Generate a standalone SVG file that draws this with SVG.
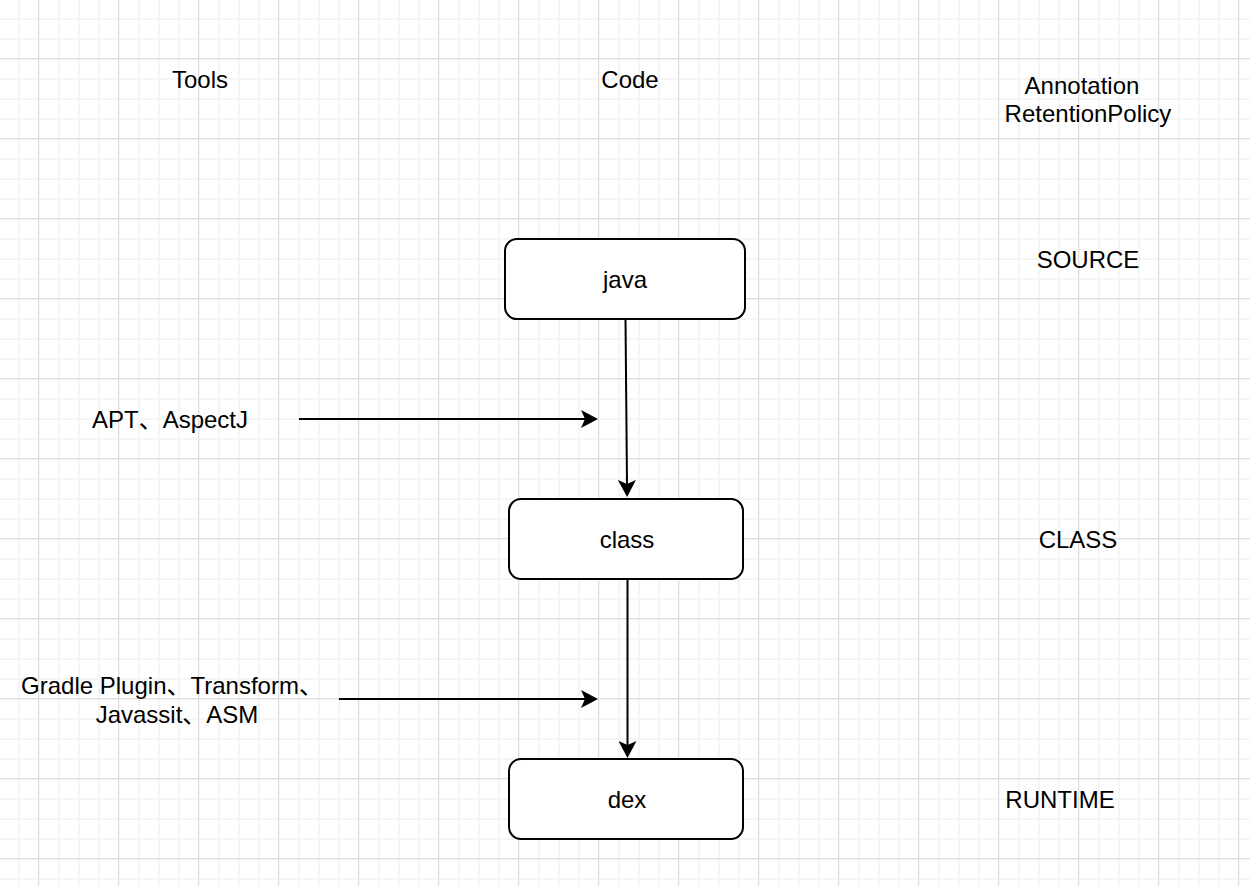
<svg xmlns="http://www.w3.org/2000/svg" width="1250" height="886" viewBox="0 0 1250 886">
  <defs>
    <pattern id="minor" patternUnits="userSpaceOnUse" x="18" y="18" width="20" height="20">
      <rect x="0" y="0" width="2" height="20" fill="#f5f5f5"/>
      <rect x="0" y="0" width="20" height="2" fill="#f5f5f5"/>
    </pattern>
    <pattern id="major" patternUnits="userSpaceOnUse" x="38" y="58" width="80" height="80">
      <rect x="0" y="0" width="1" height="80" fill="#dedede"/>
      <rect x="0" y="0" width="80" height="1" fill="#dedede"/>
    </pattern>
    <marker id="arrow" markerUnits="userSpaceOnUse" viewBox="0 0 17 18" refX="4" refY="9" markerWidth="17" markerHeight="18" orient="auto">
      <path d="M0,0 L17,9 L0,18 L4,9 Z" fill="#000"/>
    </marker>
    <style>
      text { font-family: "Liberation Sans", "Noto Sans CJK SC", sans-serif; font-size: 24px; fill: #000; text-anchor: middle; }
      .box { fill: #fff; stroke: #000; stroke-width: 2; }
      .edge { fill: none; stroke: #000; stroke-width: 2; marker-end: url(#arrow); }
    </style>
  </defs>

  <g id="background">
    <rect x="0" y="0" width="1250" height="886" fill="#fff"/>
    <rect x="0" y="0" width="1250" height="886" fill="url(#minor)"/>
    <rect x="0" y="0" width="1250" height="886" fill="url(#major)"/>
  </g>

  <g id="headers">
    <text x="200" y="88">Tools</text>
    <text x="630" y="88">Code</text>
    <text x="1082" y="94">Annotation</text>
    <text x="1088" y="122">RetentionPolicy</text>
  </g>

  <g id="policies">
    <text id="source" x="1088" y="268">SOURCE</text>
    <text id="class-policy" x="1078" y="548">CLASS</text>
    <text id="runtime" x="1060" y="808">RUNTIME</text>
  </g>

  <g id="connectors">
    <line class="edge" x1="625.5" y1="319" x2="627" y2="484"/>
    <line class="edge" x1="627.5" y1="579" x2="627.5" y2="745"/>
    <line class="edge" x1="299" y1="419" x2="585" y2="419"/>
    <line class="edge" x1="339" y1="699" x2="585" y2="699"/>
  </g>

  <g id="node-java">
    <rect class="box" x="505" y="239" width="240" height="80" rx="12" ry="12"/>
    <text x="625" y="288">java</text>
  </g>
  <g id="node-class">
    <rect class="box" x="509" y="499" width="234" height="80" rx="12" ry="12"/>
    <text x="627" y="548">class</text>
  </g>
  <g id="node-dex">
    <rect class="box" x="509" y="759" width="234" height="80" rx="12" ry="12"/>
    <text x="627" y="808">dex</text>
  </g>

  <g id="tools-apt">
    <text x="170" y="428">APT、AspectJ</text>
  </g>
  <g id="tools-gradle">
    <text x="172" y="694">Gradle Plugin、Transform、</text>
    <text x="177" y="723">Javassit、ASM</text>
  </g>
</svg>
